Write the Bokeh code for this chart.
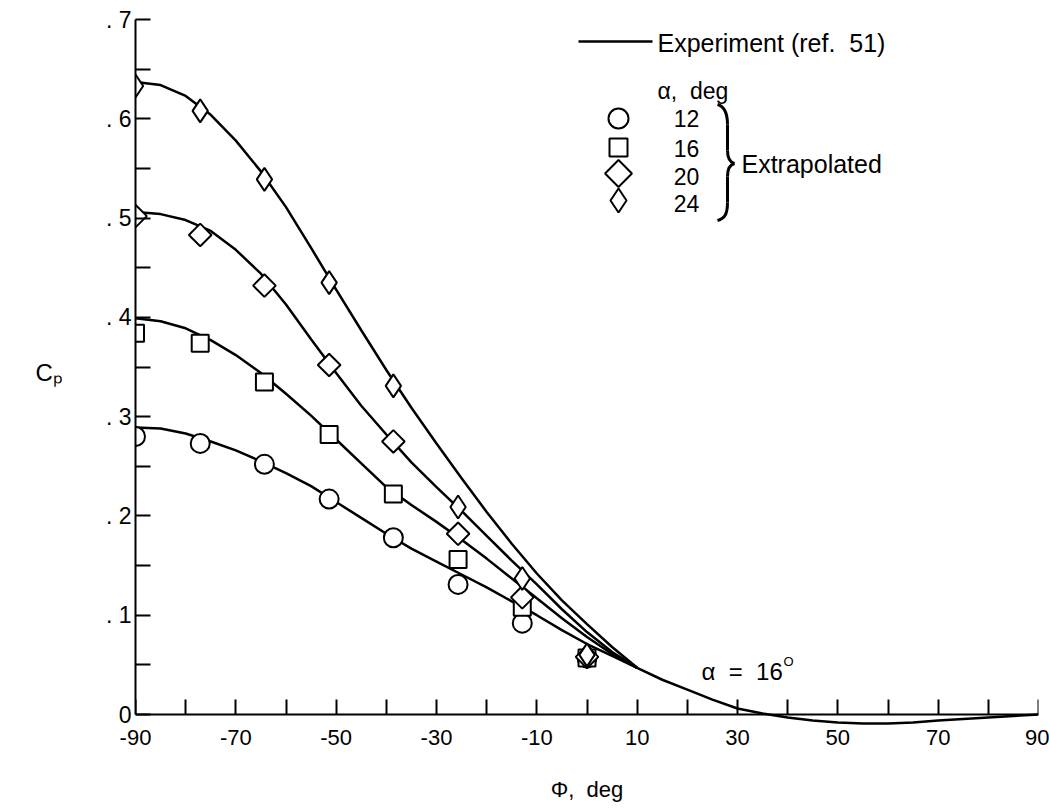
from bokeh.plotting import figure
from bokeh.models import Range1d, FixedTicker, CustomJSTickFormatter, Label, LinearAxis
from bokeh.embed import file_html
from bokeh.resources import INLINE
import math

FONT = "Liberation Sans"
SP = "\u00a0"

# ---------------- data ----------------
# extrapolated points (markers)
phi_markers = [-90, -77.1, -64.3, -51.4, -38.6, -25.7, -12.9, 0]
cp_a12 = [0.280, 0.273, 0.252, 0.217, 0.178, 0.131, 0.092, 0.057]
cp_a16 = [0.384, 0.374, 0.335, 0.282, 0.222, 0.156, 0.108, 0.057]
cp_a20 = [0.502, 0.483, 0.432, 0.352, 0.275, 0.182, 0.118, 0.058]
cp_a24 = [0.633, 0.608, 0.539, 0.435, 0.331, 0.209, 0.137, 0.060]

# experiment (ref. 51) curves, separate branches
phi_curve = [-90, -85, -80, -75, -70, -65, -60, -55, -50, -45, -40, -35,
             -30, -25, -20, -15, -10, -5, 0, 5]
exp_a12 = [0.289, 0.288, 0.283, 0.275, 0.266, 0.255, 0.243, 0.230, 0.214, 0.198,
           0.182, 0.167, 0.154, 0.141, 0.128, 0.114, 0.100, 0.085, 0.071, 0.059]
exp_a16 = [0.399, 0.396, 0.389, 0.377, 0.362, 0.344, 0.323, 0.301, 0.277, 0.253,
           0.229, 0.211, 0.194, 0.176, 0.157, 0.137, 0.117, 0.097, 0.078, 0.061]
exp_a20 = [0.506, 0.504, 0.498, 0.487, 0.468, 0.444, 0.413, 0.378, 0.344, 0.311,
           0.282, 0.254, 0.229, 0.205, 0.180, 0.155, 0.131, 0.106, 0.083, 0.063]
exp_a24 = [0.637, 0.634, 0.623, 0.604, 0.578, 0.547, 0.511, 0.470, 0.428, 0.387,
           0.347, 0.309, 0.273, 0.238, 0.204, 0.172, 0.142, 0.115, 0.091, 0.068]
# common branch of the curves
phi_tail = [10, 15, 20, 25, 30, 35, 40, 45, 50, 55, 60, 65, 70, 75, 80, 85, 90]
exp_tail = [0.047, 0.035, 0.025, 0.015, 0.006, 0.001, -0.003, -0.006, -0.008,
            -0.009, -0.009, -0.008, -0.006, -0.0045, -0.003, -0.0015, 0.0]

alpha_labels = ["12", "16", "20", "24"]
x_ticks = [-90, -80, -70, -60, -50, -40, -30, -20, -10, 0, 10, 20, 30, 40, 50, 60, 70, 80, 90]
y_ticks = [0, 0.1, 0.2, 0.3, 0.4, 0.5, 0.6, 0.7]
y_minor = [0.05, 0.15, 0.25, 0.35, 0.45, 0.55, 0.65]

# ---------------- layout ----------------
W, H = 1049, 809
L, R, T, B = 135, 11, 19, 84
Y_ZERO_PX = 714
X0, X1 = -90, 90
Y1 = 0.7
sy = (Y_ZERO_PX - T) / Y1
Y0 = Y1 - (H - T - B) / sy
sx = (W - L - R) / (X1 - X0)


def X(px):
    return X0 + (px - L) / sx


def Y(py):
    return Y1 - (py - T) / sy


p = figure(width=W, height=H, output_backend="svg", toolbar_location=None,
           x_range=Range1d(X0, X1), y_range=Range1d(Y0, Y1),
           min_border_left=L, min_border_right=R, min_border_top=T, min_border_bottom=B)
p.outline_line_color = None
p.xgrid.visible = False
p.ygrid.visible = False
p.background_fill_color = "white"
p.border_fill_color = "white"

# x axis: tick labels and title (panel axis at frame bottom)
xa = p.xaxis[0]
xa.ticker = FixedTicker(ticks=x_ticks)
xa.formatter = CustomJSTickFormatter(code="return (Math.round(tick) % 20 != 0) ? String(tick) : '';")
xa.axis_line_color = None
xa.major_tick_in = 0
xa.major_tick_out = 0
xa.minor_tick_in = 0
xa.minor_tick_out = 0
xa.major_label_standoff = 4
xa.major_label_text_font = FONT
xa.major_label_text_font_size = "22px"
xa.major_label_text_color = "black"
xa.axis_label = "\u03a6," + SP + SP + "deg"
xa.axis_label_text_font = FONT
xa.axis_label_text_font_size = "22px"
xa.axis_label_text_font_style = "normal"
xa.axis_label_text_color = "black"
xa.axis_label_standoff = 29

# x axis: line and ticks at Cp = 0
xb = LinearAxis(fixed_location=0, bounds=(-90, 90), ticker=FixedTicker(ticks=x_ticks),
                formatter=CustomJSTickFormatter(code="return '';"),
                major_tick_in=15, major_tick_out=0, minor_tick_in=0, minor_tick_out=0,
                axis_line_width=2, major_tick_line_width=2,
                axis_line_color="black", major_tick_line_color="black",
                major_label_standoff=0, major_label_text_font_size="1px")
p.add_layout(xb, "below")

# y axis
ya = p.yaxis[0]
ya.bounds = (0, 0.7)
ya.ticker = FixedTicker(ticks=y_ticks, minor_ticks=y_minor)
ya.formatter = CustomJSTickFormatter(code="return tick == 0 ? '0' : '.\u00a0' + Math.round(tick*10);")
ya.major_tick_in = 15
ya.major_tick_out = 0
ya.minor_tick_in = 15
ya.minor_tick_out = 0
ya.axis_line_width = 2
ya.major_tick_line_width = 2
ya.minor_tick_line_width = 2
ya.major_label_standoff = 4
ya.major_label_text_font = FONT
ya.major_label_text_font_size = "23px"
ya.major_label_text_color = "black"
ya.axis_line_color = "black"
ya.major_tick_line_color = "black"
ya.minor_tick_line_color = "black"
ya.axis_label = "C\u209a"
ya.axis_label_text_font = FONT
ya.axis_label_text_font_size = "24px"
ya.axis_label_text_font_style = "normal"
ya.axis_label_text_color = "black"
ya.axis_label_standoff = 40
try:
    ya.axis_label_orientation = "horizontal"
except Exception:
    try:
        ya.axis_label_orientation = 0.0
    except Exception:
        pass

# curves
for vals in (exp_a12, exp_a16, exp_a20, exp_a24):
    p.line(phi_curve + [phi_tail[0]], vals + [exp_tail[0]], line_color="black", line_width=2.5)
p.line(phi_tail, exp_tail, line_color="black", line_width=2.5)

# markers
mk = dict(fill_color="white", line_color="black", line_width=2)
p.scatter(phi_markers, cp_a12, marker="circle", size=19, **mk)
p.scatter(phi_markers, cp_a16, marker="square", size=17, **mk)
p.scatter(phi_markers, cp_a20, marker="square", angle=math.pi / 4, size=16, **mk)
p.scatter(phi_markers, cp_a24, marker="diamond", size=23, **mk)


def lab(text, px, py, size, align="left", baseline="middle"):
    p.add_layout(Label(x=X(px), y=Y(py), text=text, text_font=FONT,
                       text_font_size=size, text_align=align, text_baseline=baseline,
                       text_color="black"))


# legend
p.line([X(578), X(652)], [Y(41), Y(41)], line_color="black", line_width=2.5)
lab("Experiment (ref." + SP + SP + "51)", 657, 42, "25px")
lab("\u03b1," + SP + SP + "deg", 657, 90, "23px")
p.scatter([X(618)], [Y(118)], marker="circle", size=20, **mk)
p.scatter([X(618)], [Y(147)], marker="square", size=18, **mk)
p.scatter([X(618)], [Y(173)], marker="square", angle=math.pi / 4, size=19, **mk)
p.scatter([X(618)], [Y(200)], marker="diamond", size=24, **mk)
for t, py in zip(alpha_labels, [118, 148, 176, 203]):
    lab(t, 686, py, "23px", align="center")

# brace
bz = [  # x0, y0, x1, y1, cx0, cy0, cx1, cy1 (pixels)
    (717, 104, 727, 124, 724, 106, 727, 112),
    (727, 124, 727, 150, 727, 133, 727, 141),
    (727, 150, 734, 163, 727, 158, 730, 162),
    (734, 163, 727, 176, 730, 164, 727, 168),
    (727, 176, 727, 202, 727, 185, 727, 193),
    (727, 202, 717, 220, 727, 214, 724, 218),
]
p.bezier(x0=[X(b[0]) for b in bz], y0=[Y(b[1]) for b in bz],
         x1=[X(b[2]) for b in bz], y1=[Y(b[3]) for b in bz],
         cx0=[X(b[4]) for b in bz], cy0=[Y(b[5]) for b in bz],
         cx1=[X(b[6]) for b in bz], cy1=[Y(b[7]) for b in bz],
         line_color="black", line_width=3)
lab("Extrapolated", 741, 163, "25px")

# annotation
lab("\u03b1" + SP + SP + "=" + SP + SP + "16", 701, 671, "24px")
lab("O", 783, 661, "13px")

open("out.html", "w").write(file_html(p, INLINE))
